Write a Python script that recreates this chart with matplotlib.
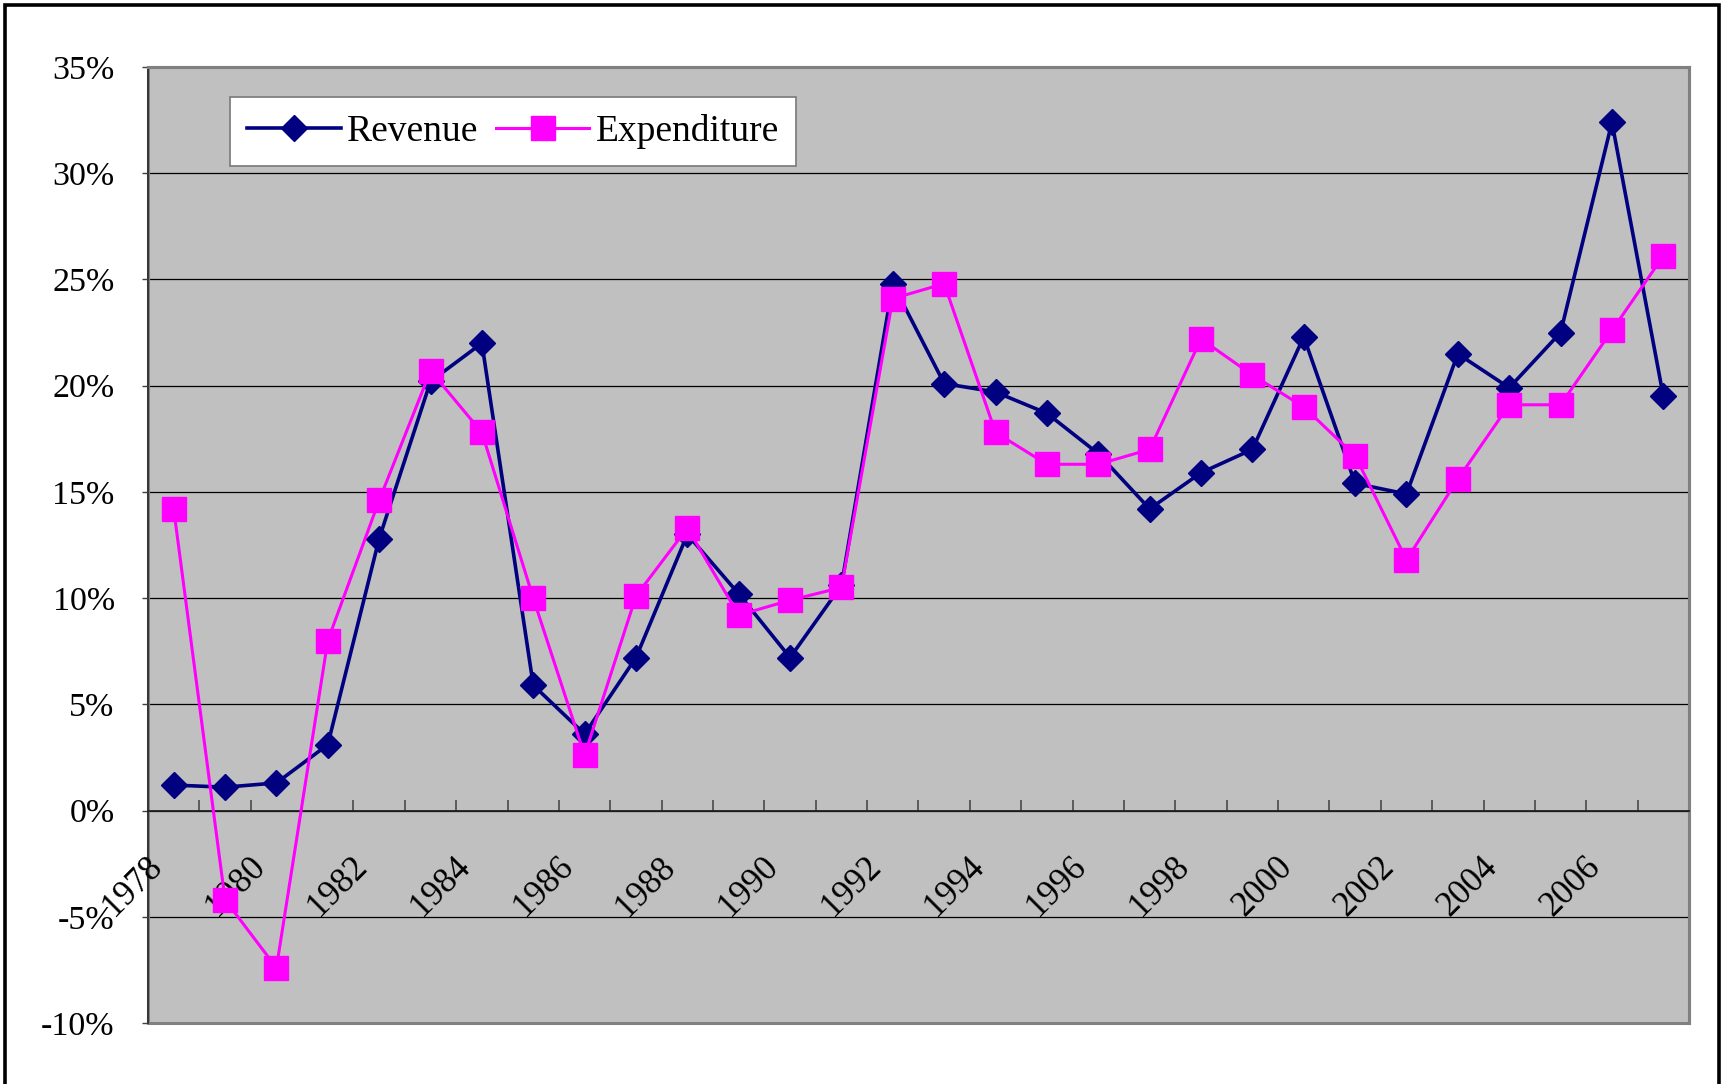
import matplotlib
matplotlib.use("Agg")
import matplotlib.pyplot as plt
from matplotlib.patches import Rectangle
from matplotlib.transforms import offset_copy

# growth rates, %
years = [str(y) for y in range(1978, 2008)]
revenue = [1.2, 1.1, 1.3, 3.1, 12.8, 20.2, 22.0, 5.9, 3.6, 7.2,
           13.0, 10.2, 7.2, 10.6, 24.8, 20.1, 19.7, 18.7, 16.8, 14.2,
           15.9, 17.0, 22.3, 15.4, 14.9, 21.5, 19.9, 22.5, 32.4, 19.5]
expenditure = [14.2, -4.2, -7.4, 8.0, 14.6, 20.7, 17.8, 10.0, 2.6, 10.1,
               13.3, 9.2, 9.9, 10.5, 24.1, 24.8, 17.8, 16.3, 16.3, 17.0,
               22.2, 20.5, 19.0, 16.7, 11.8, 15.6, 19.1, 19.1, 22.6, 26.1]
y_ticks = [-10, -5, 0, 5, 10, 15, 20, 25, 30, 35]

W, H = 1724, 1084
FONT = "Liberation Serif"
NAVY = "#000080"
MAGENTA = "#FF00FF"

fig = plt.figure(figsize=(W / 100, H / 100), dpi=100)
fig.patch.set_facecolor("white")

# chart frame (bottom edge is cut off in the original)
fig.add_artist(Rectangle((5 / W, -0.05), 1714 / W, 1.05 - 5 / H,
                         transform=fig.transFigure, fill=False,
                         edgecolor="black", linewidth=2.6))

ax = fig.add_axes([148 / W, 1 - 1023 / H, 1541 / W, 956 / H])
ax.set_facecolor("#C0C0C0")

x = list(range(len(years)))
ax.plot(x, revenue, color=NAVY, linewidth=2.6, marker="D", markersize=13,
        markerfacecolor=NAVY, markeredgecolor=NAVY, label="Revenue", zorder=3)
ax.plot(x, expenditure, color=MAGENTA, linewidth=2.2, marker="s", markersize=17,
        markerfacecolor=MAGENTA, markeredgecolor=MAGENTA, label="Expenditure", zorder=4)

ax.set_xlim(-0.5, len(years) - 0.5)
ax.set_ylim(-10, 35)

ax.set_yticks(y_ticks)
ax.set_yticklabels([f"{t}%" for t in y_ticks], fontsize=24.5, family=FONT)
ax.yaxis.grid(True, color="black", linewidth=0.9)
ax.set_axisbelow(True)
ax.tick_params(axis="y", direction="out", length=4, width=1, color="#404040", pad=20)

# category axis crosses at 0, ticks between categories
ax.spines["bottom"].set_position(("data", 0))
ax.spines["bottom"].set_color("#202020")
ax.spines["bottom"].set_linewidth(1.3)
ax.set_xticks([i - 0.5 for i in range(len(years) + 1)])
ax.set_xticklabels([])
ax.tick_params(axis="x", direction="in", length=8, width=1.1, color="#404040")

lab_tr = offset_copy(ax.transData, fig=fig, x=-5, y=-40, units="dots")
for i in range(0, len(years), 2):
    ax.text(i, 0, years[i], transform=lab_tr, rotation=45, ha="right", va="top",
            fontsize=25, family=FONT)

ax.spines["left"].set_color("#303030")
ax.spines["left"].set_linewidth(1.3)
for s in ["top", "right"]:
    ax.spines[s].set_color("#808080")
    ax.spines[s].set_linewidth(2.2)
ax.add_patch(Rectangle((0, 0), 1, 1, transform=ax.transAxes, fill=False,
                       edgecolor="#808080", linewidth=2.2, clip_on=False, zorder=1))

leg = ax.legend(loc="upper left", bbox_to_anchor=(230 / W, 1 - 97 / H),
                bbox_transform=fig.transFigure, ncol=2, frameon=True,
                fancybox=False, shadow=False, prop={"family": FONT, "size": 27},
                handlelength=2.5, handletextpad=0.18, columnspacing=0.45,
                borderpad=0.45, borderaxespad=0)
leg.get_frame().set_edgecolor("#808080")
leg.get_frame().set_linewidth(1.3)
leg.get_frame().set_facecolor("white")
leg.get_frame().set_alpha(1)

fig.savefig("out.png", dpi=100)
